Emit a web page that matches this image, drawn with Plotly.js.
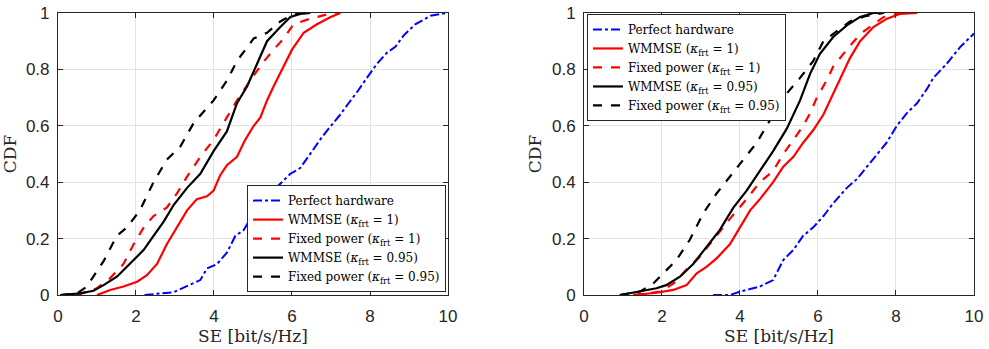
<!DOCTYPE html>
<html><head><meta charset="utf-8">
<script src="https://cdn.plot.ly/plotly-3.0.1.min.js"></script>
<style>html,body{margin:0;padding:0;background:#fff}#chart{width:989px;height:349px}</style>
</head><body><div id="chart"></div>
<script>
// ----- Left panel data (SE in bit/s/Hz, CDF) -----
const L_perfect_x = [2.22,2.97,3.65,3.82,4.08,4.33,4.55,4.76,5.02,5.36,5.74,5.96,6.21,6.51,6.77,6.94,7.24,7.45,7.67,7.92,8.18,8.44,8.65,8.86,9.16,9.55,9.97];
const L_perfect_y = [0,0.01,0.053,0.094,0.11,0.15,0.21,0.23,0.29,0.35,0.40,0.43,0.45,0.51,0.56,0.59,0.64,0.68,0.72,0.77,0.82,0.86,0.88,0.92,0.96,0.99,1.0];
const L_wmmse1_x = [1.0,1.34,1.68,2.03,2.28,2.54,2.79,3.05,3.31,3.56,3.82,3.99,4.16,4.33,4.59,4.80,5.02,5.19,5.36,5.53,5.79,6.0,6.3,6.64,6.98,7.24];
const L_wmmse1_y = [0,0.018,0.03,0.047,0.07,0.11,0.18,0.24,0.30,0.34,0.35,0.37,0.425,0.46,0.49,0.55,0.60,0.63,0.69,0.74,0.81,0.87,0.93,0.96,0.985,1.0];
const L_fixed1_x = [0.49,1.0,1.34,1.68,1.94,2.2,2.45,2.79,3.05,3.31,3.65,3.99,4.33,4.59,4.93,5.23,5.53,5.79,6.04,6.47,6.9,7.15];
const L_fixed1_y = [0,0.024,0.06,0.11,0.18,0.24,0.28,0.31,0.36,0.42,0.49,0.55,0.63,0.69,0.76,0.82,0.87,0.91,0.96,0.98,0.995,1.0];
const L_wmmse95_x = [0.06,0.57,0.91,1.17,1.51,1.85,2.2,2.45,2.71,2.97,3.31,3.65,3.99,4.33,4.59,4.85,5.1,5.36,5.7,5.96,6.21,6.47];
const L_wmmse95_y = [0,0.006,0.015,0.035,0.065,0.11,0.16,0.21,0.26,0.32,0.38,0.43,0.51,0.58,0.68,0.74,0.82,0.90,0.95,0.986,0.997,1.0];
const L_fixed95_x = [0.06,0.49,0.74,1.17,1.51,1.77,2.1,2.45,2.79,3.13,3.48,3.99,4.33,4.59,5.02,5.36,5.7,5.96,6.21];
const L_fixed95_y = [0,0.006,0.03,0.12,0.21,0.24,0.30,0.40,0.48,0.525,0.61,0.69,0.76,0.83,0.91,0.93,0.97,0.99,1.0];

// ----- Right panel data -----
const R_perfect_x = [3.31,3.74,4.0,4.51,4.85,5.11,5.37,5.62,5.88,6.14,6.39,6.74,6.99,7.25,7.51,7.76,8.02,8.28,8.54,8.79,8.96,9.3,9.65,10.0];
const R_perfect_y = [0,0,0.012,0.03,0.053,0.124,0.16,0.21,0.24,0.28,0.325,0.38,0.41,0.455,0.50,0.54,0.60,0.645,0.68,0.73,0.77,0.82,0.88,0.927];
const R_wmmse1_x = [1.26,1.86,2.29,2.63,2.89,3.14,3.4,3.74,4.0,4.26,4.51,4.85,5.11,5.37,5.62,5.88,6.14,6.39,6.57,6.82,7.08,7.42,7.77,8.11,8.54];
const R_wmmse1_y = [0,0.008,0.018,0.035,0.077,0.10,0.13,0.18,0.24,0.30,0.34,0.40,0.455,0.49,0.54,0.585,0.64,0.715,0.77,0.84,0.90,0.95,0.98,0.997,1.0];
const R_fixed1_x = [1.26,1.94,2.29,2.63,2.97,3.31,3.74,4.17,4.51,4.85,5.11,5.37,5.62,5.8,5.97,6.22,6.39,6.74,7.08,7.42,7.68,8.11];
const R_fixed1_y = [0,0.012,0.04,0.09,0.136,0.195,0.27,0.34,0.40,0.44,0.50,0.55,0.60,0.645,0.70,0.76,0.81,0.87,0.925,0.96,0.985,1.0];
const R_wmmse95_x = [0.92,1.43,1.86,2.11,2.46,2.8,3.14,3.48,3.83,4.17,4.51,4.85,5.2,5.54,5.8,6.05,6.39,6.74,7.08,7.42,7.7];
const R_wmmse95_y = [0,0.012,0.024,0.035,0.065,0.11,0.17,0.23,0.31,0.37,0.44,0.51,0.59,0.69,0.785,0.855,0.915,0.956,0.986,1.0,1.0];
const R_fixed95_x = [0.92,1.43,1.77,2.03,2.37,2.71,3.06,3.4,3.74,4.08,4.43,4.77,5.11,5.54,5.88,6.14,6.48,6.82,7.25,7.68];
const R_fixed95_y = [0,0.012,0.04,0.077,0.124,0.195,0.29,0.36,0.42,0.48,0.54,0.62,0.70,0.77,0.83,0.90,0.935,0.97,0.99,1.0];

const names = ["Perfect hardware",
  "WMMSE (<i>κ</i><sub>frt</sub> = 1)",
  "Fixed power (<i>κ</i><sub>frt</sub> = 1)",
  "WMMSE (<i>κ</i><sub>frt</sub> = 0.95)",
  "Fixed power (<i>κ</i><sub>frt</sub> = 0.95)"];
const xTicks = [0,2,4,6,8,10];
const yTicks = [0,0.2,0.4,0.6,0.8,1];
const yTickText = ["0","0.2","0.4","0.6","0.8","1"];

const styles = [
  {color:"#0000ff", dash:"dashdot", width:2},
  {color:"#ff0000", dash:"solid", width:2.2},
  {color:"#ff0000", dash:"dash", width:2.2},
  {color:"#000000", dash:"solid", width:2.2},
  {color:"#000000", dash:"dash", width:2.2}
];
const L = [[L_perfect_x,L_perfect_y],[L_wmmse1_x,L_wmmse1_y],[L_fixed1_x,L_fixed1_y],[L_wmmse95_x,L_wmmse95_y],[L_fixed95_x,L_fixed95_y]];
const R = [[R_perfect_x,R_perfect_y],[R_wmmse1_x,R_wmmse1_y],[R_fixed1_x,R_fixed1_y],[R_wmmse95_x,R_wmmse95_y],[R_fixed95_x,R_fixed95_y]];

const traces = [];
L.forEach((d,i)=>traces.push({x:d[0],y:d[1],type:"scatter",mode:"lines",name:names[i],line:Object.assign({},styles[i]),xaxis:"x",yaxis:"y",legend:"legend"}));
R.forEach((d,i)=>traces.push({x:d[0],y:d[1],type:"scatter",mode:"lines",name:names[i],line:Object.assign({},styles[i]),xaxis:"x2",yaxis:"y2",legend:"legend2"}));

const SANS = "Liberation Sans";
const SERIF = "DejaVu Serif";
function tickFont(){return {family:SANS, size:17, color:"#262626"};}
function titleFont(){return {family:SERIF, size:17, color:"#262626"};}
function xa(dom, anchor){return {domain:dom, anchor:anchor, range:[0,10], tickvals:xTicks, ticks:"inside", ticklen:5, tickcolor:"#262626",
  showline:true, linecolor:"#262626", linewidth:1, mirror:"ticks", showgrid:true, gridcolor:"#e3e3e3", zeroline:false,
  tickfont:tickFont(), ticklabelstandoff:6, title:{text:"SE [bit/s/Hz]", font:titleFont(), standoff:0}};}
function ya(anchor){return {domain:[0.1547,0.9628], range:[0,1], tickvals:yTicks, ticktext:yTickText, ticks:"inside", ticklen:5, tickcolor:"#262626",
  showline:true, linecolor:"#262626", linewidth:1, mirror:"ticks", showgrid:true, gridcolor:"#e3e3e3", zeroline:false,
  tickfont:tickFont(), ticklabelstandoff:4, anchor:anchor, title:{text:"CDF", font:titleFont(), standoff:6}};}
function legFont(){return {family:SERIF, size:12, color:"#000"};}
const layout = {
  width:989, height:349, margin:{l:0,r:0,t:0,b:0}, paper_bgcolor:"#fff", plot_bgcolor:"#fff",
  font:{family:SANS, size:16, color:"#262626"},
  xaxis: xa([0.0586,0.4530],"y"),
  yaxis: ya("x"),
  xaxis2: xa([0.5905,0.9848],"y2"),
  yaxis2: ya("x2"),
  legend: {x:0.451, y:0.163, xanchor:"right", yanchor:"bottom", bgcolor:"#fff", bordercolor:"#262626", borderwidth:1, font:legFont(), itemwidth:30, tracegroupgap:0},
  legend2: {x:0.5935, y:0.96, xanchor:"left", yanchor:"top", bgcolor:"#fff", bordercolor:"#262626", borderwidth:1, font:legFont(), itemwidth:30, tracegroupgap:0},
  showlegend:true
};
Plotly.newPlot("chart", traces, layout, {displayModeBar:false, staticPlot:true});
</script></body></html>
